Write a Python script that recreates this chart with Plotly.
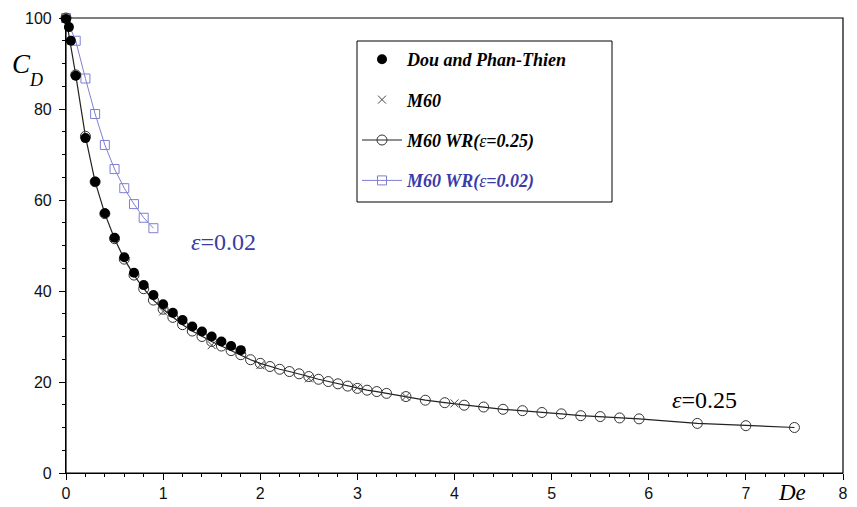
import plotly.graph_objects as go

# Dou and Phan-Thien (filled circles)
dou_de = [0, 0.03, 0.05, 0.1, 0.2, 0.3, 0.4, 0.5, 0.6, 0.7, 0.8, 0.9, 1.0, 1.1, 1.2, 1.3, 1.4, 1.5, 1.6, 1.7, 1.8]
dou_cd = [99.8, 98, 95, 87.3, 73.6, 64, 57.1, 51.7, 47.4, 44.0, 41.3, 39.1, 37.1, 35.2, 33.6, 32.2, 31.1, 30.0, 28.9, 27.9, 27.0]

# M60 (crosses)
m60_de = [1.0, 1.5, 2.0, 2.5, 3.0, 3.5, 4.0]
m60_cd = [35.5, 28.1, 23.7, 20.8, 18.75, 16.8, 15.3]

# M60 WR (eps=0.25) open circles
wr25_de = [0, 0.1, 0.2, 0.3, 0.4, 0.5, 0.6, 0.7, 0.8, 0.9, 1.0, 1.1, 1.2, 1.3, 1.4, 1.5, 1.6, 1.7, 1.8,
           1.9, 2.0, 2.1, 2.2, 2.3, 2.4, 2.5, 2.6, 2.7, 2.8, 2.9, 3.0, 3.1, 3.2, 3.3, 3.5, 3.7, 3.9,
           4.1, 4.3, 4.5, 4.7, 4.9, 5.1, 5.3, 5.5, 5.7, 5.9, 6.5, 7.0, 7.5]
wr25_cd = [100, 87.5, 74, 64, 57, 51.5, 47, 43.5, 40.5, 38, 36, 34.2, 32.6, 31.2, 30, 28.9, 27.9, 26.9, 26.0,
           24.9, 24.1, 23.4, 22.8, 22.3, 21.8, 21.2, 20.6, 20.1, 19.6, 19.1, 18.6, 18.2, 17.9, 17.5, 16.8, 16.0, 15.45,
           14.9, 14.5, 14.0, 13.7, 13.3, 13.0, 12.6, 12.4, 12.1, 11.9, 10.9, 10.4, 10.0]

# M60 WR (eps=0.02) open squares
wr02_de = [0, 0.1, 0.2, 0.3, 0.4, 0.5, 0.6, 0.7, 0.8, 0.9]
wr02_cd = [100, 95, 86.7, 78.9, 72.1, 66.8, 62.6, 59.1, 56.1, 53.8]

x_ticks = [0, 1, 2, 3, 4, 5, 6, 7, 8]
y_ticks = [0, 20, 40, 60, 80, 100]

SERIF = "Liberation Serif"
BLUE_TXT = "#3b3ba8"
BLUE_MK = "#7f7fd2"

fig = go.Figure()

fig.add_trace(go.Scatter(
    x=wr02_de, y=wr02_cd, mode="lines+markers",
    name="<span style='color:%s'><b><i>M60 WR(</i></b><i>ε</i><b><i>=0.02)</i></b></span>" % BLUE_TXT,
    line=dict(color=BLUE_MK, width=1),
    marker=dict(symbol="square-open", size=9, color=BLUE_MK, line=dict(width=1)),
    legendrank=4, legendgroup="d", cliponaxis=False))

fig.add_trace(go.Scatter(
    x=wr25_de, y=wr25_cd, mode="lines+markers",
    name="<b><i>M60 WR(</i></b><i>ε</i><b><i>=0.25)</i></b>",
    line=dict(color="#222", width=1.2),
    marker=dict(symbol="circle-open", size=10, color="#333", line=dict(width=1)),
    legendrank=3, legendgroup="c", cliponaxis=False))

fig.add_trace(go.Scatter(
    x=m60_de, y=m60_cd, mode="markers",
    name="<b><i>M60</i></b>",
    marker=dict(symbol="x-thin-open", size=8, color="#444", line=dict(width=1, color="#444")),
    legendrank=2, legendgroup="b", cliponaxis=False))

fig.add_trace(go.Scatter(
    x=dou_de, y=dou_cd, mode="markers",
    name="<b><i>Dou and Phan-Thien</i></b>",
    marker=dict(symbol="circle", size=10, color="black"),
    legendrank=1, legendgroup="a", cliponaxis=False))

tickfont = dict(family="Liberation Sans", size=16, color="#111")
axis_common = dict(
    showline=True, linecolor="black", linewidth=1.2,
    ticks="outside", ticklen=6, tickcolor="black", tickwidth=1.2,
    showgrid=False, zeroline=False, automargin=False, tickfont=tickfont,
)

fig.update_layout(
    xaxis=dict(range=[0, 8], tickmode="array", tickvals=x_ticks,
               minor=dict(dtick=0.2, ticks="outside", ticklen=3, tickcolor="black", tickwidth=1),
               **axis_common),
    yaxis=dict(range=[0, 100], tickmode="array", tickvals=y_ticks, ticklabelstandoff=4,
               minor=dict(dtick=5, ticks="outside", ticklen=3, tickcolor="black", tickwidth=1),
               **axis_common),
)

def px2paper(px, py):
    return (px - 66) / 777.0, (473 - py) / 455.0

ann = []
cx, cy = px2paper(21, 64)
ann.append(dict(x=cx, y=cy, xref="paper", yref="paper", text="<i>C</i>", showarrow=False,
                font=dict(family=SERIF, size=27, color="black"), xanchor="center", yanchor="middle"))
dx, dy = px2paper(36, 80)
ann.append(dict(x=dx, y=dy, xref="paper", yref="paper", text="<i>D</i>", showarrow=False,
                font=dict(family=SERIF, size=18, color="black"), xanchor="center", yanchor="middle"))
ex, ey = px2paper(792, 492)
ann.append(dict(x=ex, y=ey, xref="paper", yref="paper", text="<i>De</i>", showarrow=False,
                font=dict(family=SERIF, size=23, color="black"), xanchor="center", yanchor="middle"))
ann.append(dict(x=1.62, y=50.8, xref="x", yref="y", text="<i>ε</i>=0.02", showarrow=False,
                font=dict(family=SERIF, size=24, color=BLUE_TXT), xanchor="center", yanchor="middle"))
ann.append(dict(x=6.57, y=16.0, xref="x", yref="y", text="<i>ε</i>=0.25", showarrow=False,
                font=dict(family=SERIF, size=24, color="black"), xanchor="center", yanchor="middle"))

lx, ly = px2paper(357, 41)
bx1, by1 = px2paper(612, 202)
fig.update_layout(
    template="none",
    width=857, height=507,
    margin=dict(l=66, r=14, t=18, b=34),
    paper_bgcolor="white", plot_bgcolor="white",
    showlegend=True,
    legend=dict(x=lx, y=ly, xanchor="left", yanchor="top",
                borderwidth=0, bgcolor="rgba(0,0,0,0)",
                font=dict(family=SERIF, size=18, color="black"),
                tracegroupgap=14, itemwidth=40),
    shapes=[
        dict(type="rect", xref="paper", yref="paper", x0=lx, y0=by1, x1=bx1, y1=ly,
             line=dict(color="black", width=1), fillcolor="white", layer="below"),
        dict(type="rect", xref="paper", yref="paper", x0=0, y0=0, x1=1, y1=1,
             line=dict(color="black", width=1.2), fillcolor="rgba(0,0,0,0)", layer="above"),
    ],
    annotations=ann,
)

fig.write_html("out.html")
